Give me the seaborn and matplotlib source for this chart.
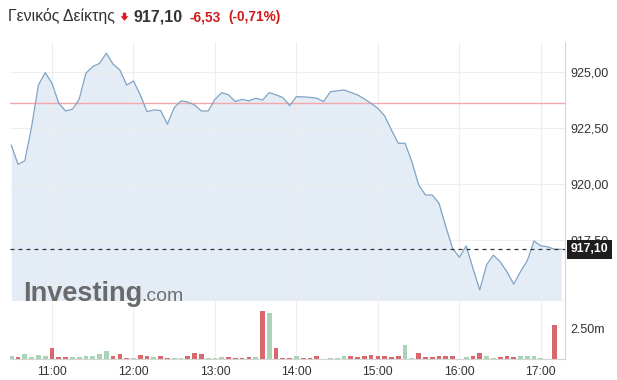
import numpy as np
import pandas as pd
import matplotlib
matplotlib.use("Agg")
import matplotlib.pyplot as plt
import seaborn as sns
from matplotlib.patches import Polygon

# ---------------- data ----------------
title = "Γενικός Δείκτης"
last_label = "917,10"
change_label = "-6,53"
pct_label = "(-0,71%)"
last_price = 917.10
prev_close = 923.63

price = [921.75, 920.89, 921.05, 922.57, 924.43, 924.98, 924.51, 923.62, 923.27, 923.35,
         923.79, 924.96, 925.25, 925.40, 925.85, 925.36, 925.10, 924.43, 924.61, 923.99,
         923.24, 923.32, 923.29, 922.68, 923.42, 923.72, 923.67, 923.54, 923.27, 923.27,
         923.79, 924.09, 923.99, 923.69, 923.79, 923.72, 923.84, 923.76, 924.09, 923.99,
         923.87, 923.51, 923.91, 923.90, 923.88, 923.84, 923.69, 924.13, 924.17, 924.21,
         924.10, 923.99, 923.81, 923.61, 923.39, 923.05, 922.42, 921.83, 921.83, 921.01,
         919.97, 919.52, 919.52, 919.15, 918.11, 917.14, 916.74, 917.25, 916.25, 915.28,
         916.40, 916.84, 916.54, 916.10, 915.54, 916.10, 916.59, 917.47, 917.25, 917.21,
         917.10, 917.10]

volume = [0.28, 0.20, 0.39, 0.20, 0.36, 0.28, 0.89, 0.20, 0.14, 0.20,
          0.14, 0.28, 0.25, 0.44, 0.64, 0.25, 0.44, 0.05, 0.05, 0.36,
          0.28, 0.14, 0.25, 0.05, 0.05, 0.05, 0.25, 0.47, 0.39, 0.05,
          0.05, 0.14, 0.14, 0.05, 0.05, 0.14, 0.14, 4.00, 3.80, 0.94,
          0.05, 0.05, 0.25, 0.05, 0.05, 0.25, 0.00, 0.05, 0.05, 0.25,
          0.25, 0.14, 0.25, 0.33, 0.25, 0.25, 0.14, 0.25, 1.17, 0.05,
          0.47, 0.14, 0.14, 0.25, 0.25, 0.25, 0.03, 0.20, 0.28, 0.47,
          0.28, 0.10, 0.20, 0.25, 0.20, 0.25, 0.28, 0.28, 0.08, 0.00,
          2.83, 0.00]

direction = ["up", "down", "up", "up", "up", "up", "down", "down", "down", "up",
             "up", "up", "up", "up", "up", "down", "down", "down", "up", "down",
             "down", "up", "down", "down", "up", "up", "down", "down", "down", "up",
             "up", "up", "down", "down", "down", "down", "up", "down", "up", "down",
             "down", "down", "up", "down", "down", "down", "down", "up", "up", "up",
             "down", "down", "down", "down", "down", "down", "down", "down", "up", "up",
             "down", "down", "down", "down", "down", "down", "down", "up", "down", "down",
             "up", "up", "down", "down", "down", "up", "up", "up", "up", "up",
             "down", "down"]

start_hour = 10.5          # 10:30, 5-minute bars
hour_ticks = [11, 12, 13, 14, 15, 16, 17]
hour_labels = ["11:00", "12:00", "13:00", "14:00", "15:00", "16:00", "17:00"]
price_ticks = [917.5, 920.0, 922.5, 925.0]
vol_ticks = [2.5]
vol_labels = ["2.50m"]

# ---------------- style ----------------
sns.set_theme(style="white")
plt.rcParams["font.family"] = ["Liberation Sans", "DejaVu Sans"]

W, H = 617, 380
LINE = "#7fa3c4"
FILL = "#e4edf6"
RED = "#d9686c"
GREEN = "#a7d4b4"
GRID = "#eeeeee"
TXT = "#333333"

n = len(price)
t = start_hour + np.arange(n) / 12.0
df = pd.DataFrame({"t": t, "price": price, "vol": volume, "dir": direction})

fig = plt.figure(figsize=(W / 100, H / 100), dpi=100)
fig.patch.set_facecolor("white")

def fx(px):
    return px / W

def fy(py):
    return (H - py) / H

ax = fig.add_axes([fx(10), fy(301), 555 / W, 259 / H])
axv = fig.add_axes([fx(10), fy(359), 555 / W, 58 / H])

XL = start_hour + (10 - 11.25) / 6.79 / 12
XR = start_hour + (565 - 11.25) / 6.79 / 12
YB = 914.79
YT = 926.35

# price panel
ax.set_xlim(XL, XR)
ax.set_ylim(YB, YT)
ax.fill_between(df["t"], df["price"], YB, color=FILL, lw=0, zorder=1)
sns.lineplot(data=df, x="t", y="price", ax=ax, color=LINE, linewidth=0.9, zorder=3)
ax.axhline(prev_close, color="#f4a7ab", lw=1.0, zorder=2.8)
ax.axhline(last_price, color="#333333", lw=0.9, ls=(0, (3.2, 3.2)), zorder=4)

ax.set_xticks(hour_ticks)
ax.set_xticklabels([])
ax.yaxis.tick_right()
ax.set_yticks(price_ticks)
ax.set_yticklabels([f"{v:.2f}".replace(".", ",") for v in price_ticks])
ax.tick_params(axis="both", length=0)
ax.tick_params(axis="y", pad=4, labelsize=9, labelcolor=TXT)
ax.set_axisbelow(False)
ax.grid(True, color=GRID, lw=0.8, zorder=2)
ax.set_xlabel("")
ax.set_ylabel("")
for s in ["top", "left"]:
    ax.spines[s].set_visible(False)
ax.spines["right"].set_color("#d4d4d4")
ax.spines["right"].set_linewidth(0.8)
ax.spines["bottom"].set_color("#c8c8c8")
ax.spines["bottom"].set_linewidth(0.8)

ax.text((567 - 10) / 555 + 0.007, last_price, last_label, transform=ax.get_yaxis_transform(),
        ha="left", va="center", color="white", fontsize=8.8, fontweight="bold",
        bbox=dict(boxstyle="square,pad=0.28", fc="#1e1e1e", ec="none"),
        clip_on=False, zorder=10)

# volume panel
sns.barplot(data=df, x="t", y="vol", hue="dir", palette={"up": GREEN, "down": RED},
            native_scale=True, dodge=False, width=0.7, legend=False, errorbar=None,
            saturation=1, linewidth=0, edgecolor="none", ax=axv)
axv.set_xlim(XL, XR)
axv.set_ylim(0, 4.83)
axv.set_xticks(hour_ticks)
axv.set_xticklabels(hour_labels)
axv.yaxis.tick_right()
axv.set_yticks(vol_ticks)
axv.set_yticklabels(vol_labels)
axv.tick_params(axis="y", length=0, pad=4, labelsize=9, labelcolor=TXT)
axv.tick_params(axis="x", length=3, color="#e2e2e2", width=0.8, pad=2,
                labelsize=8.8, labelcolor=TXT)
axv.set_axisbelow(True)
axv.grid(True, axis="x", color=GRID, lw=0.8)
axv.set_xlabel("")
axv.set_ylabel("")
for s in ["top", "left"]:
    axv.spines[s].set_visible(False)
axv.spines["right"].set_color("#d4d4d4")
axv.spines["right"].set_linewidth(0.8)
axv.spines["bottom"].set_color("#d4d4d4")
axv.spines["bottom"].set_linewidth(0.8)

# header
fig.text(fx(8), fy(21), title, fontsize=11.4, color=TXT, ha="left", va="baseline")
arrow = Polygon([(fx(122.8), fy(12.7)), (fx(126.2), fy(12.7)), (fx(126.2), fy(16.3)),
                 (fx(128.4), fy(16.3)), (fx(124.5), fy(20.8)), (fx(120.6), fy(16.3)),
                 (fx(122.8), fy(16.3))], closed=True, transform=fig.transFigure,
                fc="#e0161c", ec="none")
fig.add_artist(arrow)
fig.text(fx(134), fy(21), last_label, fontsize=11.5, fontweight="bold", color=TXT,
         ha="left", va="baseline")
fig.text(fx(190), fy(21), change_label, fontsize=9.8, fontweight="bold", color="#d01a1a",
         ha="left", va="baseline")
fig.text(fx(228), fy(21), pct_label, fontsize=9.8, fontweight="bold", color="#d01a1a",
         ha="left", va="baseline")

# watermark
fig.text(fx(23), fy(301), "Investing", fontsize=19.5, fontweight="bold", color="#6a6a6a",
         ha="left", va="baseline", zorder=20)
fig.text(fx(141), fy(301), ".com", fontsize=14, color="#707070",
         ha="left", va="baseline", zorder=20)

fig.savefig("out.png", dpi=100, facecolor="white")
